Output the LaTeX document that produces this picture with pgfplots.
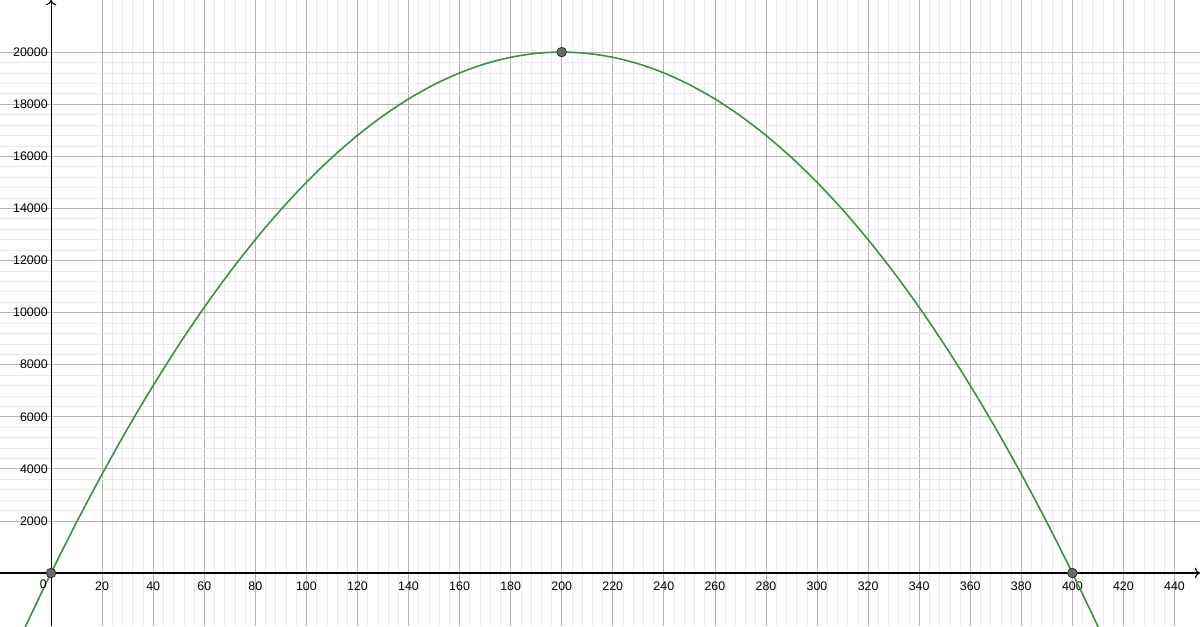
\documentclass[border=0pt]{standalone}
\usepackage{pgfplots}
\pgfplotsset{compat=1.18}
\usepackage{fontspec}
\setmainfont{Liberation Sans}
\usetikzlibrary{arrows.meta}

\definecolor{curvegreen}{RGB}{68,140,68}
\definecolor{majorgrid}{RGB}{178,178,178}
\definecolor{minorgrid}{RGB}{234,234,238}
\definecolor{ptfill}{RGB}{105,105,105}

\begin{document}
\begin{tikzpicture}
\begin{axis}[
    scale only axis,
    width=900pt, height=469.5pt,
    xmin=-20, xmax=450,
    ymin=-2035, ymax=22000,
    axis lines=middle,
    axis line style={black, line width=0.8pt, -{To[length=4pt,width=8pt]}},
    xtick={20,40,...,440},
    ytick={2000,4000,...,20000},
    scaled y ticks=false,
    minor x tick num=4,
    minor y tick num=4,
    grid=both,
    major grid style={majorgrid, line width=0.6pt},
    minor grid style={minorgrid, line width=0.45pt},
    major tick length=0pt, minor tick length=0pt,
    tick label style={font=\fontsize{9.3}{11}\selectfont},
    /pgf/number format/assume math mode=true,
    /pgf/number format/1000 sep={},
    xticklabel style={anchor=north, yshift=-3pt},
    yticklabel style={anchor=east, xshift=1pt},
    clip=true,
]
\addplot[curvegreen, line width=1.2pt, smooth] coordinates {
    (-20,-4200) (-10,-2050) (0,0) (10,1950) (20,3800) (30,5550) (40,7200)
    (50,8750) (60,10200) (70,11550) (80,12800) (90,13950) (100,15000)
    (110,15950) (120,16800) (130,17550) (140,18200) (150,18750) (160,19200)
    (170,19550) (180,19800) (190,19950) (200,20000) (210,19950) (220,19800)
    (230,19550) (240,19200) (250,18750) (260,18200) (270,17550) (280,16800)
    (290,15950) (300,15000) (310,13950) (320,12800) (330,11550) (340,10200)
    (350,8750) (360,7200) (370,5550) (380,3800) (390,1950) (400,0)
    (410,-2050) (420,-4200)
};
\addplot[only marks, mark=*, mark size=3.6pt,
    mark options={fill=ptfill, draw=black!80, line width=0.6pt}]
    coordinates {(0,0) (200,20000) (400,0)};
\node[anchor=north east, font=\fontsize{9.3}{11}\selectfont, inner sep=2pt, yshift=-3pt, xshift=-1pt]
    at (axis cs:0,0) {0};
\end{axis}
\pgfresetboundingbox
\path (current axis.south west) rectangle (current axis.north east);
\end{tikzpicture}
\end{document}
